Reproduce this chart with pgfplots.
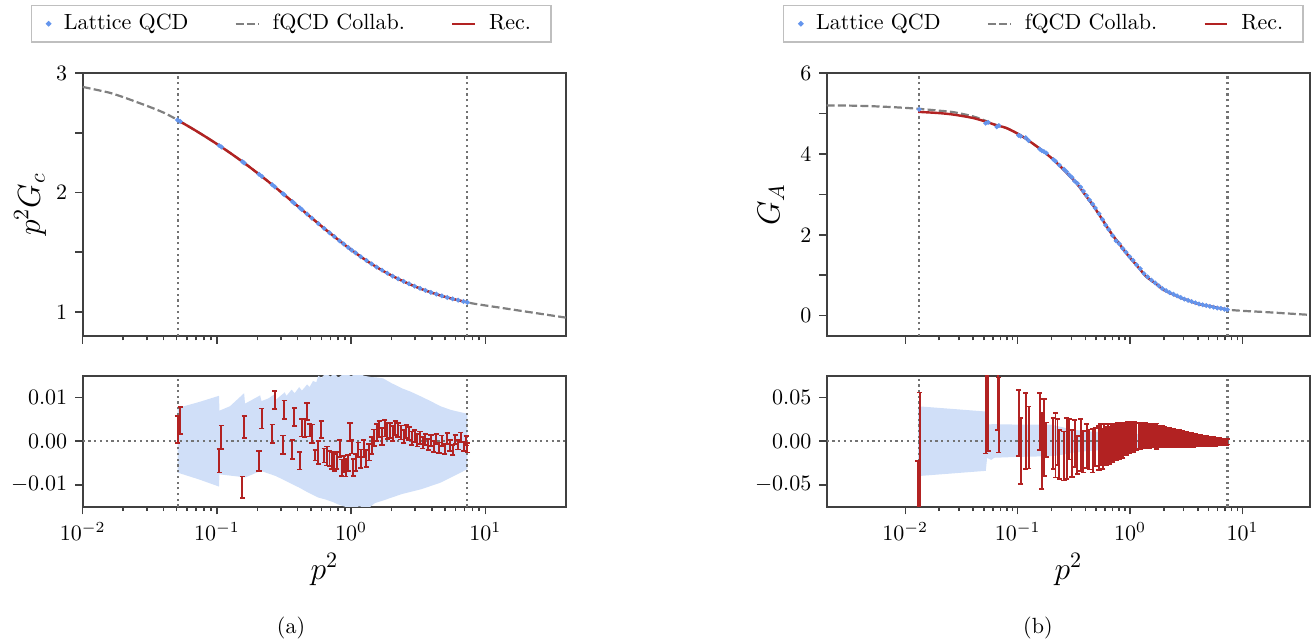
\documentclass[border=0pt]{standalone}
\usepackage{pgfplots}
\pgfplotsset{compat=1.18}
\usepackage{pgfplotstable}

\definecolor{latblue}{RGB}{100,149,237}
\definecolor{bandblue}{RGB}{208,223,248}
\definecolor{recred}{RGB}{178,34,34}
\definecolor{fgray}{RGB}{128,128,128}
\definecolor{dotgray}{RGB}{115,115,115}

% ---------- panel (a): p^2 G_c ----------
\pgfplotstableread{
x y
0.01 2.884
0.01259 2.860
0.01585 2.835
0.01995 2.799
0.02512 2.758
0.03162 2.716
0.03981 2.670
0.05012 2.612
0.0631 2.546
0.0794 2.478
0.1 2.406
0.1259 2.330
0.1585 2.250
0.1995 2.165
0.2512 2.076
0.3162 1.983
0.3981 1.888
0.5012 1.793
0.631 1.699
0.794 1.608
1 1.521
1.259 1.441
1.585 1.369
1.995 1.306
2.512 1.251
3.162 1.203
3.981 1.162
5.012 1.127
6.31 1.098
7.943 1.073
10 1.055
12.59 1.038
15.85 1.021
19.95 1.004
25.12 0.987
31.62 0.970
39.81 0.953
}\fqcdA

\pgfplotstableread{
x y
0.0509 2.606
0.0631 2.546
0.0794 2.478
0.1 2.406
0.1259 2.330
0.1585 2.250
0.1995 2.165
0.2512 2.076
0.3162 1.983
0.3981 1.888
0.5012 1.793
0.631 1.699
0.794 1.608
1 1.521
1.259 1.441
1.585 1.369
1.995 1.306
2.512 1.251
3.162 1.203
3.981 1.162
5.012 1.127
6.31 1.098
7.35 1.081
}\recA

\pgfplotstableread{
x y
0.0509 2.607
0.0533 2.594
0.104 2.393
0.108 2.381
0.155 2.258
0.160 2.247
0.206 2.153
0.216 2.135
0.258 2.065
0.270 2.047
0.310 1.991
0.318 1.981
0.365 1.924
0.378 1.909
0.414 1.872
0.430 1.857
0.47 1.820
0.51 1.785
0.57 1.740
0.63 1.700
0.69 1.663
0.75 1.631
0.82 1.596
0.88 1.570
0.95 1.540
1.01 1.518
1.08 1.495
1.18 1.463
1.30 1.431
1.42 1.403
1.55 1.376
1.70 1.350
1.86 1.325
2.04 1.300
2.24 1.278
2.46 1.256
2.70 1.236
2.97 1.216
3.26 1.198
3.58 1.181
3.93 1.164
4.32 1.150
4.74 1.135
5.20 1.122
5.71 1.110
6.27 1.099
6.88 1.088
7.35 1.081
}\latA

\pgfplotstableread{
x r e
0.0509 0.0027 0.0031
0.0533 0.0048 0.0031
0.104 -0.0045 0.0027
0.108 0.0009 0.0027
0.155 -0.0106 0.0025
0.160 0.0033 0.0025
0.206 -0.0045 0.0023
0.216 0.0052 0.0023
0.258 0.0017 0.0021
0.270 0.0094 0.0021
0.310 -0.0008 0.0021
0.318 0.0072 0.0021
0.365 -0.0019 0.0021
0.378 0.0055 0.0021
0.414 -0.0045 0.0020
0.430 0.0031 0.0020
0.450 0.0030 0.0020
0.470 0.0068 0.0019
0.490 0.0025 0.0014
0.510 0.0017 0.0021
0.540 -0.0032 0.0012
0.570 -0.0026 0.0026
0.600 0.0027 0.0020
0.630 -0.0033 0.0016
0.660 -0.0034 0.0022
0.690 -0.0040 0.0017
0.720 -0.0044 0.0019
0.750 -0.0049 0.0019
0.780 -0.0044 0.0019
0.820 -0.0017 0.0020
0.850 -0.0061 0.0019
0.880 -0.0053 0.0019
0.910 -0.0061 0.0020
0.950 -0.0050 0.0019
0.980 0.0021 0.0021
1.01 -0.0013 0.0015
1.04 -0.0060 0.0019
1.08 -0.0049 0.0019
1.13 -0.0020 0.0017
1.18 -0.0040 0.0021
1.24 -0.0017 0.0019
1.30 -0.0040 0.0019
1.36 -0.0025 0.0019
1.42 -0.0010 0.0019
1.48 0.0008 0.0019
1.55 0.0020 0.0019
1.62 0.0028 0.0018
1.70 0.0011 0.0019
1.78 0.0030 0.0019
1.86 0.0023 0.0018
1.95 0.0025 0.0017
2.04 0.0017 0.0017
2.14 0.0030 0.0016
2.24 0.0025 0.0016
2.35 0.0020 0.0016
2.46 0.0011 0.0015
2.58 0.0022 0.0015
2.70 0.0017 0.0015
2.83 0.0007 0.0015
2.97 0.0012 0.0014
3.11 0.0002 0.0014
3.26 0.0008 0.0014
3.42 -0.0004 0.0013
3.58 0.0004 0.0013
3.75 -0.0008 0.0013
3.93 0.0002 0.0013
4.12 -0.0012 0.0012
4.32 0.0005 0.0012
4.52 -0.0015 0.0012
4.74 0.0001 0.0012
4.97 -0.0018 0.0012
5.20 0.0006 0.0012
5.45 -0.0010 0.0012
5.71 -0.0020 0.0011
5.98 0.0004 0.0011
6.27 -0.0008 0.0011
6.57 0.0009 0.0011
6.88 -0.0012 0.0011
7.20 0.0001 0.0011
7.35 -0.0015 0.0011
}\resA

% band: upper edge left to right, then lower edge right to left
\pgfplotstableread{
x y
0.0509 0.0076
0.0741 0.0090
0.1036 0.0104
0.1045 0.0070
0.125 0.0080
0.1595 0.0110
0.162 0.0086
0.21 0.0105
0.215 0.0092
0.242 0.0098
0.27 0.0108
0.275 0.0095
0.32 0.0112
0.33 0.0104
0.36 0.0118
0.38 0.0110
0.41 0.0124
0.43 0.0116
0.47 0.0130
0.49 0.0124
0.52 0.0138
0.55 0.0135
0.57 0.0150
0.60 0.0145
0.65 0.0156
0.70 0.0148
0.75 0.0156
0.80 0.0146
0.90 0.0156
1.0 0.0149
1.1 0.0156
1.25 0.0150
1.4 0.0147
1.55 0.0146
1.73 0.0144
2.0 0.0133
2.4 0.0121
2.8 0.0113
3.34 0.0102
3.9 0.0092
4.64 0.0080
5.5 0.0072
6.4 0.0067
7.35 0.0063
7.35 -0.0064
6.0 -0.0078
4.64 -0.0095
3.34 -0.0110
2.40 -0.0121
1.73 -0.0136
1.5 -0.0142
1.33 -0.0155
1.15 -0.0149
1.0 -0.0156
0.898 -0.0150
0.80 -0.0145
0.738 -0.0140
0.65 -0.0134
0.567 -0.0129
0.48 -0.0118
0.408 -0.0106
0.34 -0.0094
0.275 -0.0080
0.212 -0.0068
0.163 -0.0083
0.1045 -0.0076
0.1036 -0.0104
0.0741 -0.0088
0.0509 -0.0072
}\bandA

% ---------- panel (b): G_A ----------
\pgfplotstableread{
x y
0.002 5.20
0.003162 5.195
0.005012 5.18
0.007943 5.155
0.01259 5.12
0.01995 5.07
0.02723 5.03
0.03981 4.93
0.05176 4.82
0.0631 4.72
0.0794 4.64
0.1 4.50
0.1222 4.35
0.1626 4.10
0.1995 3.90
0.2323 3.73
0.2818 3.49
0.3327 3.28
0.3981 2.99
0.4753 2.70
0.5623 2.39
0.6792 2.04
0.8128 1.755
0.9727 1.47
1.148 1.24
1.390 0.97
1.660 0.81
1.986 0.64
2.399 0.53
2.838 0.44
3.388 0.366
4.064 0.29
5.012 0.24
6.026 0.195
7.31 0.15
10 0.12
15.85 0.09
25.12 0.055
39.81 0.02
}\fqcdB

\pgfplotstableread{
x y
0.01303 5.04
0.01995 5.01
0.02723 4.97
0.03981 4.89
0.05176 4.80
0.0631 4.72
0.0794 4.64
0.1 4.50
0.1222 4.35
0.1626 4.10
0.1995 3.90
0.2323 3.73
0.2818 3.49
0.3327 3.28
0.3981 2.99
0.4753 2.70
0.5623 2.39
0.6792 2.04
0.8128 1.755
0.9727 1.47
1.148 1.24
1.390 0.97
1.660 0.81
1.986 0.64
2.399 0.53
2.838 0.44
3.388 0.366
4.064 0.29
5.012 0.24
6.026 0.195
7.35 0.15
}\recB

\pgfplotstableread{
x y
0.0133 5.10
0.0519 4.76
0.0545 4.78
0.0652 4.67
0.0680 4.70
0.102 4.46
0.106 4.44
0.118 4.40
0.125 4.33
0.157 4.12
0.164 4.08
0.171 4.06
0.180 4.02
0.208 3.86
0.217 3.82
0.235 3.72
0.258 3.62
0.272 3.56
0.288 3.48
0.304 3.42
0.321 3.33
0.340 3.27
0.363 3.18
0.384 3.08
0.41 2.97
0.435 2.86
0.464 2.76
0.49 2.66
0.53 2.52
0.567 2.38
0.606 2.24
0.647 2.13
0.70 1.98
0.75 1.85
0.80 1.78
0.86 1.66
0.92 1.57
0.99 1.46
1.06 1.37
1.14 1.26
1.23 1.16
1.33 1.04
1.43 0.96
1.55 0.88
1.67 0.81
1.80 0.74
1.94 0.67
2.09 0.62
2.25 0.57
2.43 0.53
2.62 0.49
2.82 0.45
3.04 0.41
3.28 0.38
3.53 0.35
3.81 0.32
4.10 0.29
4.42 0.27
4.76 0.25
5.13 0.23
5.53 0.21
5.96 0.19
6.42 0.18
6.92 0.16
7.35 0.15
}\latB

\pgfplotstableread{
x r e
0.0130 -0.074 0.051
0.0134 -0.020 0.0757
0.0520 0.070 0.084
0.0545 0.075 0.086
0.0662 0.060 0.047
0.0680 0.030 0.043
0.102 0.0208 0.0379
0.106 -0.0114 0.038
0.118 0.0114 0.0436
0.125 0.0042 0.0356
0.157 0.0223 0.0326
0.164 -0.0114 0.0436
0.171 0.0042 0.044
0.180 0.0015 0.020
0.208 -0.0027 0.029
0.217 -0.0045 0.037
0.226 -0.001 0.026
0.235 -0.015 0.028
0.258 -0.017 0.028
0.272 -0.0087 0.035
0.288 0.002 0.023
0.304 -0.014 0.027
0.321 -0.0023 0.027
0.340 -0.016 0.022
0.363 -0.0042 0.030
0.384 -0.012 0.024
0.41 -0.0057 0.025
0.435 -0.0095 0.023
0.464 -0.011 0.025
0.49 -0.0065 0.022
0.53 -0.008 0.025
0.55 -0.004 0.024
0.57 -0.009 0.023
0.59 -0.003 0.023
0.61 -0.006 0.022
0.63 -0.002 0.022
0.65 -0.005 0.021
0.67 -0.001 0.021
0.70 -0.003 0.021
0.72 0.000 0.020
0.75 -0.002 0.020
0.77 0.001 0.020
0.80 -0.001 0.020
0.83 0.002 0.019
0.86 0.000 0.019
0.89 0.003 0.018
0.92 0.002 0.018
0.95 0.004 0.018
0.99 0.003 0.017
1.02 0.005 0.017
1.06 0.004 0.016
1.10 0.006 0.016
1.14 0.005 0.0155
1.19 0.0065 0.015
1.23 0.006 0.015
1.28 0.0065 0.0145
1.33 0.006 0.0145
1.38 0.0065 0.014
1.43 0.006 0.014
1.49 0.006 0.0135
1.55 0.0062 0.0135
1.61 0.0058 0.013
1.67 0.006 0.013
1.73 0.0057 0.0145
1.80 0.0055 0.0125
1.87 0.0053 0.012
1.94 0.005 0.012
2.01 0.0048 0.0115
2.09 0.0045 0.0113
2.17 0.0043 0.011
2.25 0.004 0.0108
2.34 0.0038 0.0105
2.43 0.0035 0.0102
2.52 0.0034 0.010
2.62 0.0032 0.0098
2.72 0.003 0.0095
2.82 0.0027 0.0092
2.93 0.0025 0.009
3.04 0.0022 0.0087
3.16 0.002 0.0085
3.28 0.0018 0.0082
3.40 0.0015 0.008
3.53 0.0013 0.0077
3.67 0.0011 0.0074
3.81 0.0009 0.0071
3.95 0.0008 0.0068
4.10 0.0006 0.0066
4.26 0.0004 0.0063
4.42 0.0003 0.0061
4.59 0.0001 0.0058
4.76 0.0000 0.0056
4.94 -0.0001 0.0054
5.13 -0.0002 0.0052
5.33 -0.0003 0.0050
5.53 -0.0004 0.0048
5.74 -0.0005 0.0046
5.96 -0.0006 0.0044
6.19 -0.0007 0.0041
6.42 -0.0008 0.0038
6.67 -0.0008 0.0036
6.92 -0.0009 0.0033
7.18 -0.0009 0.0031
7.35 -0.0009 0.0030
}\resB

\pgfplotstableread{
x y
0.0130 0.040
0.052 0.034
0.0535 0.019
0.060 0.0195
0.10 0.019
0.20 0.019
0.25 0.016
0.30 0.0135
0.40 0.0115
0.60 0.010
1.0 0.0085
2.0 0.0065
4.0 0.0045
7.35 0.003
7.35 -0.003
4.0 -0.0045
2.0 -0.0065
1.0 -0.0085
0.60 -0.010
0.40 -0.0115
0.30 -0.0135
0.25 -0.0155
0.20 -0.0172
0.10 -0.018
0.062 -0.019
0.058 -0.0215
0.0535 -0.019
0.052 -0.034
0.0130 -0.040
}\bandB

\pgfplotsset{
  every axis/.append style={
    scale only axis, width=219.75pt,
    tick align=outside, xtick pos=left, ytick pos=left,
    major tick length=3.5pt, minor tick length=2pt,
    tick style={black!75, line width=0.7pt},
    axis line style={black!75, line width=0.8pt},
    xtick={0.01,0.1,1,10},
    scaled y ticks=false,
    tick label style={font=\normalsize},
    label style={font=\fontsize{14}{17}\selectfont},
  },
}

\begin{document}
\begin{tikzpicture}
\useasboundingbox (0,0) rectangle (596.4pt,-290.5pt);

% (a) top
\begin{axis}[xmode=log, at={(37.6pt,-152.7pt)}, anchor=south west, height=119.5pt,
  xmin=0.01, xmax=40, ymin=0.8, ymax=3, xticklabels=\empty,
  ytick={1,1.5,2,2.5,3}, yticklabels={1,,2,,3},
  ylabel={$p^2G_c$}, ylabel style={at={(axis description cs:-0.109,0.5)}, anchor=center},
  legend columns=3,
  legend style={at={(axis description cs:0.431,1.1875)}, anchor=center,
    draw=black!25, line width=0.6pt, inner xsep=7pt, inner ysep=2pt, font=\normalsize,
    /tikz/every odd column/.append style={column sep=4pt},
    /tikz/every even column/.append style={column sep=19pt}},
  legend image code/.code={\draw[mark repeat=2,mark phase=2,#1] plot coordinates {(0cm,0cm) (0.18cm,0cm) (0.36cm,0cm)};}]
\addplot[dotgray, line width=1pt, dash pattern=on 1pt off 1.6pt, forget plot] coordinates {(0.051,0.8) (0.051,3)};
\addplot[dotgray, line width=1pt, dash pattern=on 1pt off 1.6pt, forget plot] coordinates {(7.35,0.8) (7.35,3)};
\addplot[only marks, mark=*, mark size=0.9pt, latblue] table {\latA};
\addlegendentry{Lattice QCD}
\addplot[fgray, line width=1pt, dash pattern=on 3.6pt off 1.5pt, smooth] table {\fqcdA};
\addlegendentry{fQCD Collab.}
\addplot[recred, line width=1.1pt, smooth] table {\recA};
\addlegendentry{Rec.}
\end{axis}

% (a) bottom
\begin{axis}[xmode=log, at={(37.6pt,-230.3pt)}, anchor=south west, height=59.5pt,
  xmin=0.01, xmax=40, ymin=-0.015, ymax=0.015,
  xlabel={$p^2$}, xlabel style={at={(axis description cs:0.5,-0.48)}, anchor=center},
  ytick={-0.01,0,0.01}, yticklabels={$-0.01$,$0.00$,$0.01$}]
\addplot[fill=bandblue, draw=none] table {\bandA};
\addplot[dotgray, line width=1pt, dash pattern=on 1pt off 1.6pt] coordinates {(0.01,0) (40,0)};
\addplot[dotgray, line width=1pt, dash pattern=on 1pt off 1.6pt] coordinates {(0.051,-0.015) (0.051,0.015)};
\addplot[dotgray, line width=1pt, dash pattern=on 1pt off 1.6pt] coordinates {(7.35,-0.015) (7.35,0.015)};
\addplot[recred, draw=none, mark=none,
  error bars/y dir=both, error bars/y explicit,
  error bars/error bar style={draw=recred, solid, line width=0.9pt},
  error bars/error mark options={rotate=90, draw=recred, solid, mark size=1.2pt, line width=0.8pt}]
  table[x=x, y=r, y error=e] {\resA};
\end{axis}

% (b) top
\begin{axis}[xmode=log, at={(375.8pt,-152.7pt)}, anchor=south west, height=119.5pt,
  xmin=0.002, xmax=40, ymin=-0.5, ymax=6, xticklabels=\empty,
  ytick={0,1,2,3,4,5,6}, yticklabels={0,,2,,4,,6},
  ylabel={$G_A$}, ylabel style={at={(axis description cs:-0.1156,0.5)}, anchor=center},
  legend columns=3,
  legend style={at={(axis description cs:0.448,1.1875)}, anchor=center,
    draw=black!25, line width=0.6pt, inner xsep=7pt, inner ysep=2pt, font=\normalsize,
    /tikz/every odd column/.append style={column sep=4pt},
    /tikz/every even column/.append style={column sep=19pt}},
  legend image code/.code={\draw[mark repeat=2,mark phase=2,#1] plot coordinates {(0cm,0cm) (0.18cm,0cm) (0.36cm,0cm)};}]
\addplot[dotgray, line width=1pt, dash pattern=on 1pt off 1.6pt, forget plot] coordinates {(0.0133,-0.5) (0.0133,6)};
\addplot[dotgray, line width=1pt, dash pattern=on 1pt off 1.6pt, forget plot] coordinates {(7.35,-0.5) (7.35,6)};
\addplot[only marks, mark=*, mark size=0.9pt, latblue] table {\latB};
\addlegendentry{Lattice QCD}
\addplot[fgray, line width=1pt, dash pattern=on 3.6pt off 1.5pt, smooth] table {\fqcdB};
\addlegendentry{fQCD Collab.}
\addplot[recred, line width=1.1pt, smooth] table {\recB};
\addlegendentry{Rec.}
\end{axis}

% (b) bottom
\begin{axis}[xmode=log, at={(375.8pt,-230.3pt)}, anchor=south west, height=59.5pt,
  xmin=0.002, xmax=40, ymin=-0.075, ymax=0.075,
  xlabel={$p^2$}, xlabel style={at={(axis description cs:0.5,-0.48)}, anchor=center},
  ytick={-0.05,0,0.05}, yticklabels={$-0.05$,$0.00$,$0.05$}]
\addplot[fill=bandblue, draw=none] table {\bandB};
\addplot[dotgray, line width=1pt, dash pattern=on 1pt off 1.6pt] coordinates {(0.002,0) (40,0)};
\addplot[dotgray, line width=1pt, dash pattern=on 1pt off 1.6pt] coordinates {(0.0133,-0.075) (0.0133,0.075)};
\addplot[dotgray, line width=1pt, dash pattern=on 1pt off 1.6pt] coordinates {(7.35,-0.075) (7.35,0.075)};
\addplot[recred, draw=none, mark=none,
  error bars/y dir=both, error bars/y explicit,
  error bars/error bar style={draw=recred, solid, line width=0.9pt},
  error bars/error mark options={rotate=90, draw=recred, solid, mark size=1.2pt, line width=0.8pt}]
  table[x=x, y=r, y error=e] {\resB};
\end{axis}

\node at (132.3pt,-285.4pt) {(a)};
\node at (471.8pt,-285.4pt) {(b)};
\end{tikzpicture}
\end{document}
